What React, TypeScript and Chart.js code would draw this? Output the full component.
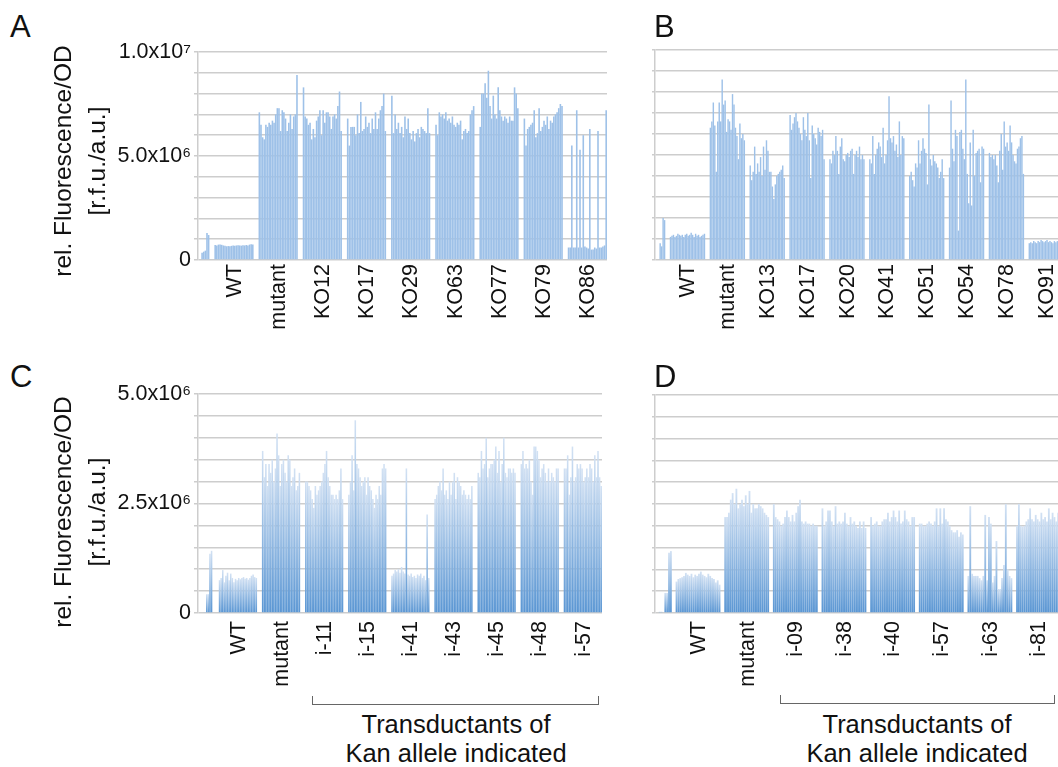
import React, { useEffect, useRef } from 'react';
import { Chart, registerables } from 'chart.js';

Chart.register(...registerables);

const FONT = "'Liberation Sans', Arial, Helvetica, sans-serif";

// ---------- y axis ticks (values in units of 10^6 r.f.u./a.u.) ----------
const tickValuesTop = [0, 5, 10];
const tickTextsTop = ['0', '5.0x10\u2076', '1.0x10\u2077'];
const tickValuesBottom = [0, 2.5, 5];
const tickTextsBottom = ['0', '2.5x10\u2076', '5.0x10\u2076'];
const yTitleLines = ['rel. Fluorescence/OD', '[r.f.u./a.u.]'];
const bracketLines = ['Transductants of', 'Kan allele indicated'];

// ---------- Panel A ----------
const aNames = ['WT', 'mutant', 'KO12', 'KO17', 'KO29', 'KO63', 'KO77', 'KO79', 'KO86'];
const aLead = [0.35, 0.4, 0.45, 1.3, 1.2];
const aWT = [0.72, 0.7, 0.74, 0.75, 0.73, 0.7, 0.68, 0.66, 0.67, 0.66, 0.68, 0.7, 0.69, 0.7, 0.71, 0.7, 0.69, 0.71, 0.7, 0.72, 0.7, 0.74, 0.76, 0.75];
const aMutant = [7.1, 6.5, 5.9, 5.8, 6.5, 6.4, 6.6, 6.5, 6.7, 6.6, 7.0, 7.3, 7.3, 6.2, 7.2, 7.1, 6.8, 6.2, 6.6, 7.0, 6.3, 6.9, 7.0, 8.9];
const aKO12 = [8.3, 6.9, 6.8, 6.5, 6.6, 5.8, 6.3, 5.9, 6.7, 6.9, 7.2, 6.0, 7.2, 6.6, 7.1, 7.1, 6.9, 6.3, 6.9, 7.0, 6.8, 7.4, 8.1, 6.2];
const aKO17 = [6.8, 5.5, 6.4, 6.4, 6.4, 6.0, 7.0, 6.1, 7.6, 6.2, 6.3, 6.9, 6.4, 6.6, 6.1, 6.8, 6.3, 7.1, 6.3, 6.8, 7.2, 7.4, 8.0, 6.2];
const aKO29 = [7.9, 6.1, 7.0, 6.3, 6.6, 6.1, 6.4, 5.9, 6.9, 6.3, 6.8, 6.1, 5.8, 6.2, 5.7, 6.1, 6.3, 5.9, 6.4, 6.3, 6.2, 6.1, 7.3, 6.1];
const aKO63 = [6.5, 6.0, 7.1, 6.9, 7.0, 6.8, 7.1, 6.7, 6.8, 6.6, 6.9, 6.5, 6.4, 6.6, 6.5, 6.7, 5.8, 6.2, 6.3, 6.1, 6.2, 7.0, 7.2, 7.4];
const aKO77 = [6.4, 8.0, 8.0, 8.5, 7.8, 9.1, 7.4, 6.8, 7.9, 7.0, 6.8, 8.3, 7.2, 6.9, 6.7, 6.9, 6.8, 6.6, 6.9, 6.7, 6.7, 8.3, 8.0, 7.3];
const aKO79 = [6.8, 5.5, 6.3, 6.4, 6.5, 6.6, 7.2, 5.9, 6.1, 7.3, 6.2, 6.4, 6.7, 6.5, 6.9, 6.3, 6.7, 6.6, 6.9, 7.0, 7.1, 7.3, 7.5, 7.4];
const aKO86 = [0.6, 0.6, 5.5, 0.6, 0.6, 7.2, 0.6, 5.3, 0.6, 6.0, 0.65, 0.6, 0.55, 6.3, 0.5, 0.5, 0.6, 0.55, 6.2, 0.6, 0.6, 0.65, 0.7, 7.2];

// ---------- Panel B ----------
const bNames = ['WT', 'mutant', 'KO13', 'KO17', 'KO20', 'KO41', 'KO51', 'KO54', 'KO78', 'KO91'];
const bLead = [0.8, 0.65, 2.0, 1.9];
const bWT = [1.1, 1.15, 1.2, 1.1, 1.15, 1.25, 1.2, 1.15, 1.2, 1.1, 1.2, 1.25, 1.15, 1.2, 1.3, 1.2, 1.1, 1.25, 1.15, 1.2, 1.1, 1.15, 1.2, 1.25];
const bMutant = [6.3, 6.6, 7.5, 6.4, 4.2, 6.6, 7.5, 6.6, 8.6, 7.4, 7.6, 6.1, 6.7, 6.6, 6.2, 7.9, 7.4, 6.3, 5.9, 4.8, 6.5, 5.8, 6.0, 5.7];
const bKO13 = [4.5, 3.8, 4.2, 5.4, 4.1, 4.6, 4.2, 4.9, 4.0, 5.4, 4.3, 5.7, 5.2, 4.2, 4.2, 3.5, 2.9, 3.6, 4.0, 4.1, 4.2, 4.3, 4.5, 3.9];
const bKO17 = [6.9, 6.2, 6.5, 6.8, 7.0, 6.6, 6.3, 6.0, 5.7, 6.8, 6.2, 5.9, 7.0, 5.7, 3.9, 6.4, 6.0, 5.8, 5.5, 6.3, 6.1, 5.9, 6.2, 4.8];
const bKO20 = [4.8, 4.6, 5.2, 5.0, 5.9, 5.2, 4.1, 5.4, 5.8, 4.8, 4.7, 5.0, 5.1, 4.9, 5.2, 5.3, 4.1, 5.0, 5.2, 4.9, 5.4, 4.8, 5.0, 4.8];
const bKO41 = [4.8, 4.6, 5.9, 4.1, 5.0, 5.3, 5.6, 5.4, 4.9, 6.3, 4.6, 5.0, 5.7, 7.8, 5.8, 5.6, 5.9, 5.2, 5.5, 4.9, 6.6, 5.0, 5.9, 5.8];
const bKO51 = [4.0, 4.2, 3.8, 3.5, 4.6, 4.4, 5.7, 4.6, 5.2, 5.8, 5.3, 5.1, 3.6, 7.4, 4.8, 4.5, 5.0, 4.7, 4.6, 4.4, 3.9, 4.2, 4.8, 3.9];
const bKO54 = [4.4, 7.6, 5.3, 4.7, 6.2, 5.9, 1.4, 6.1, 6.2, 5.3, 4.8, 8.6, 4.1, 2.7, 5.6, 2.6, 6.2, 4.0, 5.1, 5.2, 5.3, 3.7, 5.4, 5.3];
const bKO78 = [5.1, 4.9, 5.0, 4.8, 5.0, 4.5, 3.7, 5.2, 6.0, 4.3, 6.6, 5.4, 5.6, 5.2, 6.4, 5.6, 5.0, 4.7, 4.6, 5.3, 5.4, 5.8, 5.9, 4.1];
const bKO91 = [0.8, 0.85, 0.8, 0.9, 0.85, 0.8, 0.9, 0.85, 0.95, 0.9, 0.85, 0.9, 0.95, 0.85, 0.9, 0.85, 0.8, 0.9, 0.85, 0.9, 0.85, 0.8, 0.85, 0.9];

// ---------- Panel C ----------
const cNames = ['WT', 'mutant', 'i-11', 'i-15', 'i-41', 'i-43', 'i-45', 'i-48', 'i-57'];
const cLead = [0.02, 0.02, 0.43, 0.43, 1.35, 1.42];
const cWT = [0.75, 0.8, 0.98, 0.7, 0.85, 0.92, 0.75, 0.9, 0.8, 0.7, 0.78, 0.75, 0.8, 0.77, 0.8, 0.82, 0.78, 0.8, 0.76, 0.8, 0.85, 0.88, 0.82, 0.8];
const cMutant = [3.7, 3.1, 3.4, 2.9, 3.4, 3.2, 3.5, 3.0, 3.3, 4.1, 3.6, 2.9, 3.4, 3.5, 3.2, 3.0, 3.6, 3.5, 2.9, 3.1, 3.3, 2.8, 2.9, 3.2];
const cI11 = [3.0, 3.0, 2.9, 2.8, 2.6, 2.4, 2.9, 2.7, 2.8, 2.9, 3.0, 3.2, 3.4, 3.7, 3.1, 2.9, 2.7, 2.7, 2.6, 2.7, 2.6, 2.8, 3.3, 2.6];
const cI15 = [2.7, 3.0, 3.6, 2.8, 4.4, 3.4, 3.3, 3.1, 2.9, 3.0, 3.1, 2.7, 3.1, 2.9, 2.8, 2.6, 2.4, 2.7, 2.6, 2.9, 2.7, 3.3, 3.4, 3.3];
const cI41 = [0.85, 0.9, 0.98, 0.95, 1.0, 0.92, 1.05, 0.95, 0.9, 3.3, 0.88, 0.85, 0.9, 0.82, 0.85, 0.8, 0.88, 0.85, 0.9, 0.8, 0.85, 0.75, 2.25, 0.8];
const cI43 = [2.6, 2.7, 2.9, 3.0, 2.8, 3.3, 2.7, 2.8, 2.6, 3.0, 2.7, 3.0, 3.2, 2.6, 3.1, 3.0, 2.9, 2.7, 2.8, 2.7, 2.6, 2.7, 2.6, 2.9];
const cI45 = [3.2, 3.1, 3.7, 3.3, 3.4, 4.0, 3.1, 3.3, 3.4, 3.4, 3.5, 3.8, 3.2, 3.7, 3.0, 3.4, 4.0, 3.2, 3.1, 3.3, 3.3, 3.2, 3.3, 3.2];
const cI48 = [3.4, 3.7, 3.3, 3.4, 3.3, 3.5, 3.0, 2.7, 3.8, 3.8, 3.7, 3.5, 3.1, 3.3, 3.4, 3.2, 3.0, 3.3, 3.0, 3.2, 3.1, 3.0, 3.3, 3.3];
const cI57 = [3.3, 3.3, 3.6, 2.7, 3.1, 3.8, 3.0, 3.1, 3.4, 3.3, 3.4, 3.3, 3.0, 3.1, 3.3, 3.1, 3.4, 3.3, 3.0, 3.6, 3.1, 3.7, 3.1, 2.9];

// ---------- Panel D ----------
const dNames = ['WT', 'mutant', 'i-09', 'i-38', 'i-40', 'i-57', 'i-63', 'i-81'];
const dLead = [0.03, 0.03, 0.0, 0.46, 0.46, 1.38, 1.42];
const dWT = [0.72, 0.78, 0.8, 0.82, 0.85, 0.92, 0.88, 0.85, 0.9, 0.82, 0.88, 0.85, 0.9, 0.95, 0.88, 0.85, 0.82, 0.9, 0.85, 0.8, 0.78, 0.7, 0.75, 0.65];
const dMutant = [2.2, 2.2, 2.3, 2.6, 2.75, 2.5, 2.85, 2.4, 2.5, 2.6, 2.45, 2.7, 2.5, 2.8, 2.3, 2.5, 2.4, 2.4, 2.5, 2.45, 2.4, 2.3, 2.25, 2.2];
const dI09 = [2.5, 2.2, 2.15, 2.1, 2.0, 2.05, 2.2, 2.35, 2.2, 2.1, 2.25, 2.1, 2.3, 2.45, 2.6, 2.1, 2.05, 2.1, 2.05, 2.05, 2.0, 2.05, 2.0, 2.0];
const dI38 = [2.4, 2.0, 2.1, 2.35, 2.35, 2.1, 2.0, 2.45, 2.05, 2.1, 2.05, 2.1, 2.3, 2.05, 2.0, 2.2, 2.05, 2.1, 2.0, 1.95, 2.1, 1.95, 2.1, 1.95];
const dI40 = [2.2, 2.0, 2.05, 2.1, 2.0, 2.0, 2.1, 2.15, 2.15, 2.3, 2.1, 2.2, 2.35, 2.2, 2.1, 2.35, 2.05, 2.1, 2.35, 2.15, 2.1, 2.0, 2.2, 2.2];
const dI57 = [2.05, 2.05, 2.0, 2.0, 2.05, 2.1, 2.05, 2.0, 2.1, 2.4, 2.0, 2.4, 2.05, 2.4, 2.15, 2.1, 2.0, 1.9, 1.85, 1.85, 1.9, 1.75, 1.85, 1.8];
const dI63 = [0.85, 2.45, 0.9, 0.85, 0.85, 0.85, 0.8, 0.75, 0.85, 2.25, 0.75, 2.2, 2.05, 0.7, 0.85, 1.65, 0.55, 0.55, 0.8, 1.1, 2.5, 1.0, 0.85, 0.8];
const dI81 = [2.0, 2.5, 2.0, 1.98, 2.0, 2.1, 2.15, 2.4, 2.15, 2.1, 2.25, 2.15, 2.1, 2.3, 2.15, 2.2, 2.1, 2.4, 2.15, 2.3, 2.2, 2.1, 2.3, 2.2];

type PanelSpec = {
  left: number; top: number; yWidth: number; plotWidth: number; plotTop: number; plotBottom: number; xHeight: number;
  leadEmpty: number; leadValues: number[]; leadGap: number; groups: number[][]; names: string[]; gap: number;
  max: number; step: number; tickValues: number[]; tickTexts: string[]; tickLen: number; labelPad: number; gradient: boolean;
};

const panels: PanelSpec[] = [
  { left: 100, top: 20, yWidth: 98, plotWidth: 409, plotTop: 52, plotBottom: 260, xHeight: 90,
    leadEmpty: 2, leadValues: aLead, leadGap: 3, groups: [aWT, aMutant, aKO12, aKO17, aKO29, aKO63, aKO77, aKO79, aKO86], names: aNames, gap: 3,
    max: 10, step: 1, tickValues: tickValuesTop, tickTexts: tickTextsTop, tickLen: 4, labelPad: 4, gradient: false },
  { left: 555, top: 20, yWidth: 100, plotWidth: 409, plotTop: 50, plotBottom: 260, xHeight: 90,
    leadEmpty: 3, leadValues: bLead, leadGap: 3, groups: [bWT, bMutant, bKO13, bKO17, bKO20, bKO41, bKO51, bKO54, bKO78, bKO91], names: bNames, gap: 3,
    max: 10, step: 1, tickValues: [], tickTexts: [], tickLen: 3, labelPad: 4, gradient: false },
  { left: 100, top: 360, yWidth: 98, plotWidth: 404, plotTop: 394, plotBottom: 613, xHeight: 80,
    leadEmpty: 3, leadValues: cLead, leadGap: 4, groups: [cWT, cMutant, cI11, cI15, cI41, cI43, cI45, cI48, cI57], names: cNames, gap: 3,
    max: 5, step: 0.5, tickValues: tickValuesBottom, tickTexts: tickTextsBottom, tickLen: 4, labelPad: 8, gradient: true },
  { left: 555, top: 360, yWidth: 100, plotWidth: 406, plotTop: 395, plotBottom: 613, xHeight: 80,
    leadEmpty: 2, leadValues: dLead, leadGap: 2, groups: [dWT, dMutant, dI09, dI38, dI40, dI57, dI63, dI81], names: dNames, gap: 2,
    max: 5, step: 0.5, tickValues: [], tickTexts: [], tickLen: 3, labelPad: 8, gradient: true },
];

function buildSeries(p: PanelSpec) {
  const labels: string[] = [];
  const data: (number | null)[] = [];
  const pushEmpty = (n: number) => { for (let i = 0; i < n; i++) { labels.push(''); data.push(null); } };
  pushEmpty(p.leadEmpty);
  p.leadValues.forEach((v) => { labels.push(''); data.push(v); });
  pushEmpty(p.leadGap);
  p.groups.forEach((g, gi) => {
    if (gi > 0) pushEmpty(p.gap);
    const mid = Math.floor(g.length / 2);
    g.forEach((v, i) => { labels.push(i === mid ? p.names[gi] : ''); data.push(v); });
  });
  return { labels, data };
}

const SOLID = 'rgb(158,193,232)';

function buildConfig(p: PanelSpec): any {
  const { labels, data } = buildSeries(p);
  const bg = p.gradient
    ? (ctx: any) => {
        const chart = ctx.chart;
        const v = ctx.raw;
        if (v == null || !chart.chartArea) return 'rgb(120,170,222)';
        const ys = chart.scales.y;
        const yTop = ys.getPixelForValue(v);
        const yBot = ys.getPixelForValue(0);
        const g = chart.ctx.createLinearGradient(0, yTop, 0, yBot + 0.01);
        g.addColorStop(0, 'rgb(210,225,243)');
        g.addColorStop(1, 'rgb(90,150,211)');
        return g;
      }
    : SOLID;
  return {
    type: 'bar',
    data: {
      labels,
      datasets: [{ data, backgroundColor: bg, borderWidth: 0, barPercentage: 0.97, categoryPercentage: 1 }],
    },
    options: {
      responsive: false,
      animation: false,
      devicePixelRatio: 1,
      events: [],
      layout: { padding: { top: p.plotTop - p.top, right: 0, left: 0, bottom: 0 } },
      plugins: { legend: { display: false }, tooltip: { enabled: false }, title: { display: false } },
      scales: {
        x: {
          grid: { display: false, drawTicks: false },
          border: { display: false },
          ticks: {
            autoSkip: false, minRotation: 90, maxRotation: 90, padding: p.labelPad,
            color: '#111', font: { family: FONT, size: 21.5 },
          },
          afterFit: (s: any) => { s.height = p.xHeight; s.paddingLeft = 0; s.paddingRight = 0; },
        },
        y: {
          min: 0, max: p.max,
          grid: { color: '#cdcdcd', lineWidth: 1.5, drawTicks: true, tickLength: p.tickLen },
          border: { display: true, color: '#cdcdcd', width: 1.5 },
          ticks: {
            stepSize: p.step, autoSkip: false, padding: 3, color: '#111', font: { family: FONT, size: 21.5 },
            callback: (v: number) => {
              const i = p.tickValues.findIndex((t) => Math.abs(t - v) < 1e-6);
              return i >= 0 ? p.tickTexts[i] : '';
            },
          },
          afterFit: (s: any) => { s.width = p.yWidth; },
        },
      },
    },
  };
}

function Panel({ p }: { p: PanelSpec }) {
  const ref = useRef<HTMLCanvasElement>(null);
  const width = p.yWidth + p.plotWidth;
  const height = p.plotBottom + p.xHeight - p.top;
  useEffect(() => {
    const chart = new Chart(ref.current as HTMLCanvasElement, buildConfig(p));
    return () => chart.destroy();
  }, []);
  return (
    <canvas
      ref={ref}
      width={width}
      height={height}
      style={{ position: 'absolute', left: p.left, top: p.top, width, height }}
    />
  );
}

const letters = [
  { t: 'A', x: 10, y: 11 },
  { t: 'B', x: 654, y: 11 },
  { t: 'C', x: 10, y: 361 },
  { t: 'D', x: 654, y: 361 },
];

function YTitle({ cy }: { cy: number }) {
  return (
    <div
      style={{
        position: 'absolute', left: 80 - 160, top: cy - 34, width: 320, height: 68,
        fontSize: 24.5, lineHeight: '34px', textAlign: 'center', color: '#111',
        transform: 'rotate(-90deg)', whiteSpace: 'nowrap',
      }}
    >
      {yTitleLines.map((l) => <div key={l}>{l}</div>)}
    </div>
  );
}

function Bracket({ x1, x2, y, cx }: { x1: number; x2: number; y: number; cx: number }) {
  return (
    <>
      <div
        style={{
          position: 'absolute', left: x1, top: y - 9, width: x2 - x1, height: 9, boxSizing: 'border-box',
          borderLeft: '1.3px solid #666', borderRight: '1.3px solid #666', borderBottom: '1.3px solid #666',
        }}
      />
      <div
        style={{
          position: 'absolute', left: cx - 160, top: 710, width: 320, fontSize: 25.5, lineHeight: '28.5px',
          textAlign: 'center', color: '#111', whiteSpace: 'nowrap',
        }}
      >
        {bracketLines.map((l) => <div key={l}>{l}</div>)}
      </div>
    </>
  );
}

export default function App() {
  return (
    <div
      style={{
        position: 'fixed', left: 0, top: 0, width: 1058, height: 767, overflow: 'hidden',
        background: '#fff', fontFamily: FONT,
      }}
    >
      {panels.map((p, i) => <Panel key={i} p={p} />)}
      {letters.map((l) => (
        <div key={l.t} style={{ position: 'absolute', left: l.x, top: l.y, fontSize: 31, lineHeight: 1, color: '#111' }}>{l.t}</div>
      ))}
      <YTitle cy={161} />
      <YTitle cy={512} />
      <Bracket x1={312} x2={599} y={705} cx={456} />
      <Bracket x1={780} x2={1055} y={704} cx={917} />
    </div>
  );
}
